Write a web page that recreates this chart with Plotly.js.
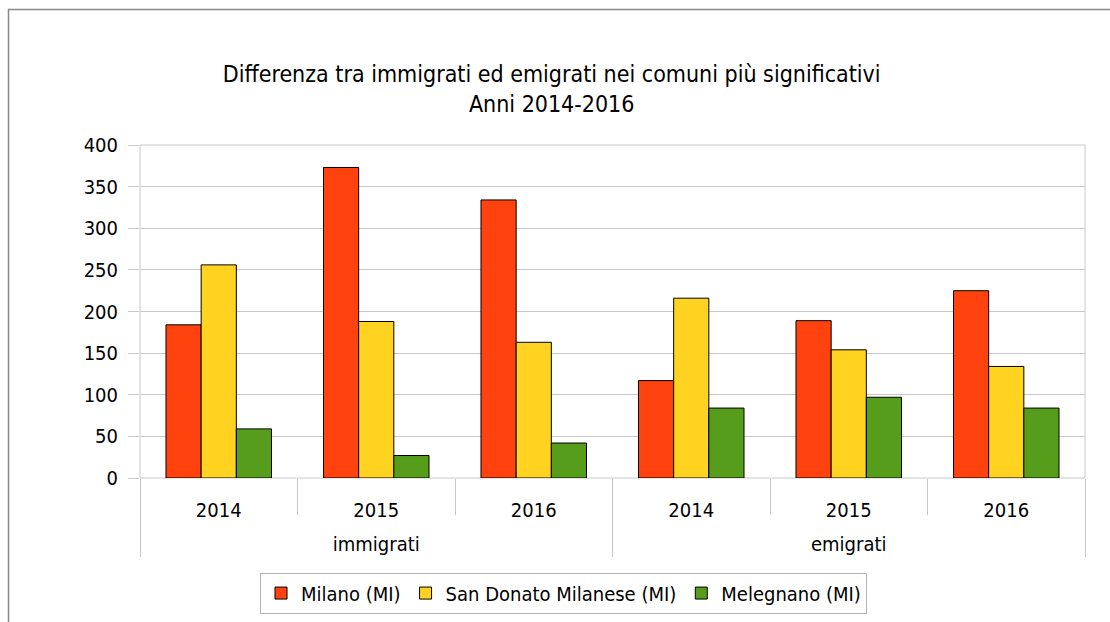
<!DOCTYPE html>
<html>
<head>
<meta charset="utf-8">
<script src="https://cdn.plot.ly/plotly-3.0.1.min.js"></script>
<style>
html,body{margin:0;padding:0;background:#fff;}
#chart{width:1110px;height:622px;}
</style>
</head>
<body>
<div id="chart"></div>
<script>
const groups = ["immigrati","immigrati","immigrati","emigrati","emigrati","emigrati"];
const years = ["2014","2015","2016","2014","2015","2016"];
const seriesNames = ["Milano (MI)","San Donato Milanese (MI)","Melegnano (MI)"];
const milano = [184, 373, 334, 117, 189, 225];
const sanDonato = [256, 188, 163, 216, 154, 134];
const melegnano = [59, 27, 42, 84, 97, 84];
const colors = ["#ff420e","#ffd320","#579d1c"];
const yTicks = [0,50,100,150,200,250,300,350,400];

const FONT = "DejaVu Sans Condensed, DejaVu Sans, sans-serif";
const values = [milano, sanDonato, melegnano];
// outer level is pushed one line down so it sits under the year labels
const outer = groups.map(g => "<br>" + g);
const data = values.map((v,i)=>({
  type:"bar",
  name: seriesNames[i],
  x:[outer, years],
  y:v,
  marker:{color:colors[i], line:{color:"#000", width:1}},
  hoverinfo:"y+name"
}));

const layout = {
  width:1110, height:622,
  margin:{l:140, r:25, t:145, b:144, autoexpand:false},
  paper_bgcolor:"#fff", plot_bgcolor:"#fff",
  font:{family:FONT, size:20, color:"#000"},
  title:{text:"Differenza tra immigrati ed emigrati nei comuni più significativi<br>Anni 2014-2016",
         x:0.497, xref:"container", xanchor:"center", y:0.868, yanchor:"top",
         font:{family:FONT, size:23, color:"#000"}},
  barmode:"group", bargap:0.33, bargroupgap:0,
  showlegend:true,
  legend:{orientation:"h", x:0.127, xanchor:"left", y:-0.284, yanchor:"top",
          bordercolor:"#b3b3b3", borderwidth:1, font:{family:FONT, size:20},
          itemwidth:20, tracegroupgap:0},
  xaxis:{type:"multicategory", showgrid:false, zeroline:false, showline:false,
         ticks:"outside", tickson:"boundaries", ticklen:36, tickcolor:"#c8c8c8",
         ticklabelstandoff:18,
         showdividers:true, dividercolor:"#c8c8c8", dividerwidth:1,
         tickfont:{family:FONT, size:20, color:"#000"}},
  yaxis:{range:[0,400], tickvals:yTicks, showgrid:true, gridcolor:"#c8c8c8",
         zeroline:false, showline:false, ticks:"outside", ticklen:11, tickcolor:"#c8c8c8",
         ticklabelstandoff:6, tickfont:{family:FONT, size:20, color:"#000"}},
  shapes:[
    {type:"rect", xref:"paper", yref:"paper", x0:0, x1:1, y0:0, y1:1,
     line:{color:"#c8c8c8", width:1}, layer:"below"},
    {type:"rect", xref:"paper", yref:"paper", x0:(8.5-140)/945, x1:1.2, y0:-1, y1:(478-9.5)/333,
     line:{color:"#888", width:1.5}}
  ]
};
Plotly.newPlot("chart", data, layout, {displayModeBar:false, staticPlot:true});
</script>
</body>
</html>
